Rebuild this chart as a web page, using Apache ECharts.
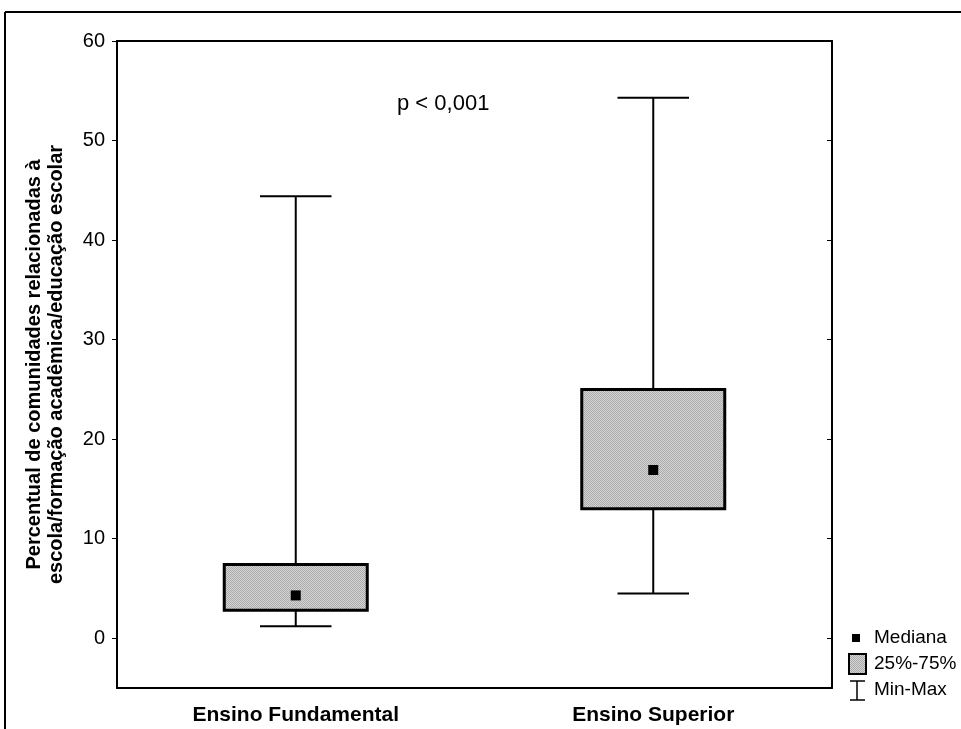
<!DOCTYPE html>
<html>
<head>
<meta charset="utf-8">
<script src="https://cdn.jsdelivr.net/npm/echarts@6/dist/echarts.min.js"></script>
<style>
  html, body { margin: 0; padding: 0; background: #fff; }
  #chart { width: 961px; height: 729px; }
</style>
</head>
<body>
<div id="chart"></div>
<script>
// dados
var categories = ['Ensino Fundamental', 'Ensino Superior'];
var mins = [1.2, 4.5];
var q1s = [2.8, 13.0];
var medians = [4.3, 16.9];
var q3s = [7.4, 25.0];
var maxs = [44.4, 54.3];
var yTicks = [0, 10, 20, 30, 40, 50, 60];
var pLabel = 'p < 0,001';

var FONT = 'Liberation Sans, Arial, sans-serif';

// textura pontilhada da caixa
function makePattern() {
    var c = document.createElement('canvas');
    c.width = 2; c.height = 2;
    var ctx = c.getContext('2d');
    ctx.fillStyle = '#d6d6d6';
    ctx.fillRect(0, 0, 2, 2);
    ctx.fillStyle = '#a9a9a9';
    ctx.fillRect(0, 0, 1, 1);
    ctx.fillRect(1, 1, 1, 1);
    return c;
}
var pattern = makePattern();

var boxData = categories.map(function (c, i) {
    return [i, mins[i], q1s[i], medians[i], q3s[i], maxs[i]];
});

function renderBox(params, api) {
    var idx = api.value(0);
    var band = api.size([1, 0])[0];
    var boxW = band * 0.4;
    var capW = band * 0.2;
    var pMin = api.coord([idx, api.value(1)]);
    var pQ1 = api.coord([idx, api.value(2)]);
    var pMed = api.coord([idx, api.value(3)]);
    var pQ3 = api.coord([idx, api.value(4)]);
    var pMax = api.coord([idx, api.value(5)]);
    var x = pMed[0];
    var line = { stroke: '#000', lineWidth: 2 };
    return {
        type: 'group',
        children: [
            { type: 'line', shape: { x1: x, y1: pMax[1], x2: x, y2: pQ3[1] }, style: line },
            { type: 'line', shape: { x1: x, y1: pQ1[1], x2: x, y2: pMin[1] }, style: line },
            { type: 'line', shape: { x1: x - capW / 2, y1: pMax[1], x2: x + capW / 2, y2: pMax[1] }, style: line },
            { type: 'line', shape: { x1: x - capW / 2, y1: pMin[1], x2: x + capW / 2, y2: pMin[1] }, style: line },
            {
                type: 'rect',
                shape: { x: x - boxW / 2, y: pQ3[1], width: boxW, height: pQ1[1] - pQ3[1] },
                style: { fill: { image: pattern, repeat: 'repeat' }, stroke: '#000', lineWidth: 3 }
            },
            {
                type: 'rect',
                shape: { x: x - 5, y: pMed[1] - 5, width: 10, height: 10 },
                style: { fill: '#000' }
            }
        ]
    };
}

var chart = echarts.init(document.getElementById('chart'));
chart.setOption({
    animation: false,
    backgroundColor: '#fff',
    grid: { left: 117, right: 129, top: 41, bottom: 41 },
    xAxis: [{
        type: 'category',
        data: categories,
        position: 'bottom',
        axisLine: { onZero: false, lineStyle: { color: '#000', width: 2 } },
        axisTick: { inside: true, alignWithLabel: true, length: 5, lineStyle: { color: '#000', width: 1 } },
        axisLabel: { color: '#000', fontFamily: FONT, fontWeight: 'bold', fontSize: 21, margin: 17 },
        splitLine: { show: false }
    }, {
        type: 'category',
        data: categories,
        position: 'top',
        axisLine: { onZero: false, lineStyle: { color: '#000', width: 2 } },
        axisTick: { inside: true, alignWithLabel: true, length: 5, lineStyle: { color: '#000', width: 1 } },
        axisLabel: { show: false },
        splitLine: { show: false }
    }],
    yAxis: [{
        type: 'value',
        min: -5,
        max: 60,
        position: 'left',
        name: 'Percentual de comunidades relacionadas à\nescola/formação acadêmica/educação escolar',
        nameLocation: 'middle',
        nameGap: 50,
        nameTextStyle: { color: '#000', fontFamily: FONT, fontWeight: 'bold', fontSize: 20, lineHeight: 22 },
        axisLine: { show: true, onZero: false, lineStyle: { color: '#000', width: 2 } },
        axisTick: { show: true, inside: false, length: 5, customValues: yTicks, lineStyle: { color: '#000', width: 1 } },
        axisLabel: { color: '#000', fontFamily: FONT, fontSize: 20, margin: 12, customValues: yTicks },
        splitLine: { show: false }
    }, {
        type: 'value',
        min: -5,
        max: 60,
        position: 'right',
        axisLine: { show: true, onZero: false, lineStyle: { color: '#000', width: 2 } },
        axisTick: { show: true, inside: true, length: 5, customValues: yTicks, lineStyle: { color: '#000', width: 1 } },
        axisLabel: { show: false },
        splitLine: { show: false }
    }],
    series: [{
        type: 'custom',
        xAxisIndex: 0,
        yAxisIndex: 0,
        renderItem: renderBox,
        encode: { x: 0, y: [1, 2, 3, 4, 5] },
        data: boxData
    }],
    graphic: [
        // moldura externa
        { type: 'line', shape: { x1: 5, y1: 12, x2: 961, y2: 12 }, style: { stroke: '#000', lineWidth: 2 } },
        { type: 'line', shape: { x1: 5, y1: 12, x2: 5, y2: 729 }, style: { stroke: '#000', lineWidth: 2 } },
        {
            type: 'text',
            style: { text: pLabel, x: 397, y: 104, verticalAlign: 'middle', font: '22px ' + FONT, fill: '#000' }
        },
        // legenda
        { type: 'rect', shape: { x: 852, y: 634, width: 8, height: 8 }, style: { fill: '#000' } },
        { type: 'text', style: { text: 'Mediana', x: 874, y: 638, verticalAlign: 'middle', font: '19px ' + FONT, fill: '#000' } },
        { type: 'rect', shape: { x: 849, y: 654, width: 17, height: 20 }, style: { fill: { image: pattern, repeat: 'repeat' }, stroke: '#000', lineWidth: 2 } },
        { type: 'text', style: { text: '25%-75%', x: 874, y: 664, verticalAlign: 'middle', font: '19px ' + FONT, fill: '#000' } },
        { type: 'line', shape: { x1: 857, y1: 681, x2: 857, y2: 700 }, style: { stroke: '#000', lineWidth: 1.5 } },
        { type: 'line', shape: { x1: 850, y1: 681, x2: 865, y2: 681 }, style: { stroke: '#000', lineWidth: 1.5 } },
        { type: 'line', shape: { x1: 850, y1: 700, x2: 865, y2: 700 }, style: { stroke: '#000', lineWidth: 1.5 } },
        { type: 'text', style: { text: 'Min-Max', x: 874, y: 690, verticalAlign: 'middle', font: '19px ' + FONT, fill: '#000' } }
    ]
});
window.addEventListener('resize', chart.resize);
</script>
</body>
</html>
